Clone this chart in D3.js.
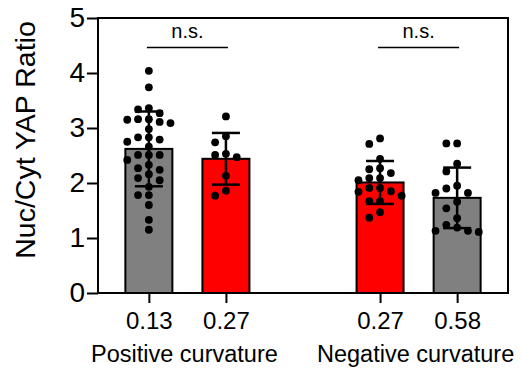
<!DOCTYPE html>
<html>
<head>
<meta charset="utf-8">
<script src="https://cdn.jsdelivr.net/npm/d3@7"></script>
<style>
  html, body { margin: 0; padding: 0; background: #fff; }
  svg { display: block; font-family: "Liberation Sans", Arial, Helvetica, sans-serif; }
</style>
</head>
<body>
<svg id="chart" width="522" height="371"></svg>
<script>
// Nuclear / cytoplasmic YAP ratio for each curvature condition
const groups = ["Positive curvature", "Negative curvature"];
const tickLabels = ["0.13", "0.27", "0.27", "0.58"];
const groupOf = [0, 0, 1, 1];
const fills = ["#808080", "#ff0000", "#ff0000", "#808080"];
const means = [2.62, 2.44, 2.01, 1.73];
const sds = [0.68, 0.47, 0.39, 0.55];
const yTicks = [0, 1, 2, 3, 4, 5];

const points0 = [4.04, 3.74, 3.36, 3.34, 3.27, 3.16, 3.16, 3.15, 3.11, 3.09, 2.98,
  2.83, 2.83, 2.79, 2.75, 2.66, 2.51, 2.51, 2.51, 2.42, 2.33, 2.27, 2.24, 2.16,
  2.09, 2.05, 1.93, 1.78, 1.78, 1.60, 1.33, 1.15];
const points1 = [3.21, 2.85, 2.74, 2.53, 2.51, 2.47, 2.13, 1.86, 1.77];
const points2 = [2.81, 2.71, 2.44, 2.27, 2.25, 2.18, 2.09, 2.09, 2.05, 1.91, 1.91,
  1.85, 1.84, 1.77, 1.67, 1.67, 1.47, 1.37];
const points3 = [2.72, 2.72, 2.35, 2.21, 1.95, 1.90, 1.82, 1.82, 1.66, 1.54, 1.36,
  1.24, 1.19, 1.13, 1.13, 1.11];
const points = [points0, points1, points2, points3];

// pairwise comparisons (bar index pairs) and their labels
const comparisons = [[0, 1], [2, 3]];
const compLabels = ["n.s.", "n.s."];

const svg = d3.select("#chart");
const plot = { left: 98, right: 508, top: 18, bottom: 293 };

// one slot per bar plus an empty slot between the two groups
const keys = [];
tickLabels.forEach((t, i) => {
  if (i > 0 && groupOf[i] !== groupOf[i - 1]) keys.push("gap" + i);
  keys.push("bar" + i);
});
const x = d3.scalePoint().domain(keys).range([plot.left, plot.right]).padding(0.66);
const cx = i => x("bar" + i);
const y = d3.scaleLinear().domain([0, 5]).range([plot.bottom, plot.top]);

const barW = 47;
const dotR = 3.9;

// bars
svg.append("g").selectAll("rect").data(means).join("rect")
  .attr("x", (d, i) => cx(i) - barW / 2)
  .attr("y", d => y(d))
  .attr("width", barW)
  .attr("height", d => y(0) - y(d))
  .attr("fill", (d, i) => fills[i])
  .attr("stroke", "#000")
  .attr("stroke-width", 2);

// simple swarm: place each point in the nearest free column around the bar centre
function swarm(vals, centre) {
  const step = 10.8;
  const placed = [];
  const sorted = vals.slice().sort((a, b) => b - a);
  sorted.forEach(v => {
    const py = y(v);
    const order = [0, -1, 1, -2, 2, -3, 3];
    for (const k of order) {
      const px = centre + k * step;
      const hit = placed.some(p => Math.hypot(p.x - px, p.y - py) < dotR * 2 + 0.2);
      if (!hit) { placed.push({ x: px, y: py }); break; }
    }
  });
  return placed;
}

const dotG = svg.append("g");
points.forEach((vals, i) => {
  dotG.selectAll(null).data(swarm(vals, cx(i))).join("circle")
    .attr("cx", d => d.x)
    .attr("cy", d => d.y)
    .attr("r", dotR)
    .attr("fill", "#000");
});

// mean ± SD error bars
const capW = 28;
const err = svg.append("g").attr("stroke", "#000").attr("stroke-width", 2.5);
means.forEach((m, i) => {
  const hi = y(m + sds[i]), lo = y(m - sds[i]);
  err.append("line").attr("x1", cx(i)).attr("x2", cx(i)).attr("y1", hi).attr("y2", lo);
  err.append("line").attr("x1", cx(i) - capW / 2).attr("x2", cx(i) + capW / 2).attr("y1", hi).attr("y2", hi);
  err.append("line").attr("x1", cx(i) - capW / 2).attr("x2", cx(i) + capW / 2).attr("y1", lo).attr("y2", lo);
});

// axes
const yAxis = svg.append("g")
  .attr("transform", `translate(${plot.left},0)`)
  .call(d3.axisLeft(y).tickValues(yTicks).tickFormat(d3.format("d")).tickSize(11).tickSizeOuter(0).tickPadding(2));
yAxis.selectAll("text").attr("font-size", 28).attr("fill", "#000").attr("font-family", null);
yAxis.selectAll("line").attr("stroke-width", 2);

const xAxis = svg.append("g")
  .attr("transform", `translate(0,${plot.bottom})`)
  .call(d3.axisBottom(x).tickValues(tickLabels.map((t, i) => "bar" + i))
    .tickFormat((k) => tickLabels[+k.slice(3)]).tickSize(10).tickSizeOuter(0).tickPadding(9));
xAxis.selectAll("text").attr("font-size", 24).attr("fill", "#000").attr("font-family", null);
xAxis.selectAll("line").attr("stroke-width", 2);
svg.selectAll(".domain").remove();

// frame
svg.append("rect")
  .attr("x", plot.left).attr("y", plot.top)
  .attr("width", plot.right - plot.left).attr("height", plot.bottom - plot.top)
  .attr("fill", "none").attr("stroke", "#000").attr("stroke-width", 2);

// group labels
groups.forEach((g, gi) => {
  const idx = groupOf.map((v, i) => v === gi ? i : -1).filter(i => i >= 0);
  const mid = (cx(idx[0]) + cx(idx[idx.length - 1])) / 2;
  svg.append("text").attr("x", mid - 3).attr("y", 362)
    .attr("text-anchor", "middle").attr("font-size", 23.5).text(g);
});

// significance brackets
comparisons.forEach(([a, b], j) => {
  const x1 = cx(a) - 2, x2 = cx(b) + 2;
  svg.append("line").attr("x1", x1).attr("x2", x2).attr("y1", 47.5).attr("y2", 47.5)
    .attr("stroke", "#000").attr("stroke-width", 1.5);
  svg.append("text").attr("x", (x1 + x2) / 2).attr("y", 38)
    .attr("text-anchor", "middle").attr("font-size", 20).text(compLabels[j]);
});

// y axis title
svg.append("text")
  .attr("transform", "translate(35,140) rotate(-90)")
  .attr("text-anchor", "middle").attr("font-size", 28.5)
  .text("Nuc/Cyt YAP Ratio");
</script>
</body>
</html>
